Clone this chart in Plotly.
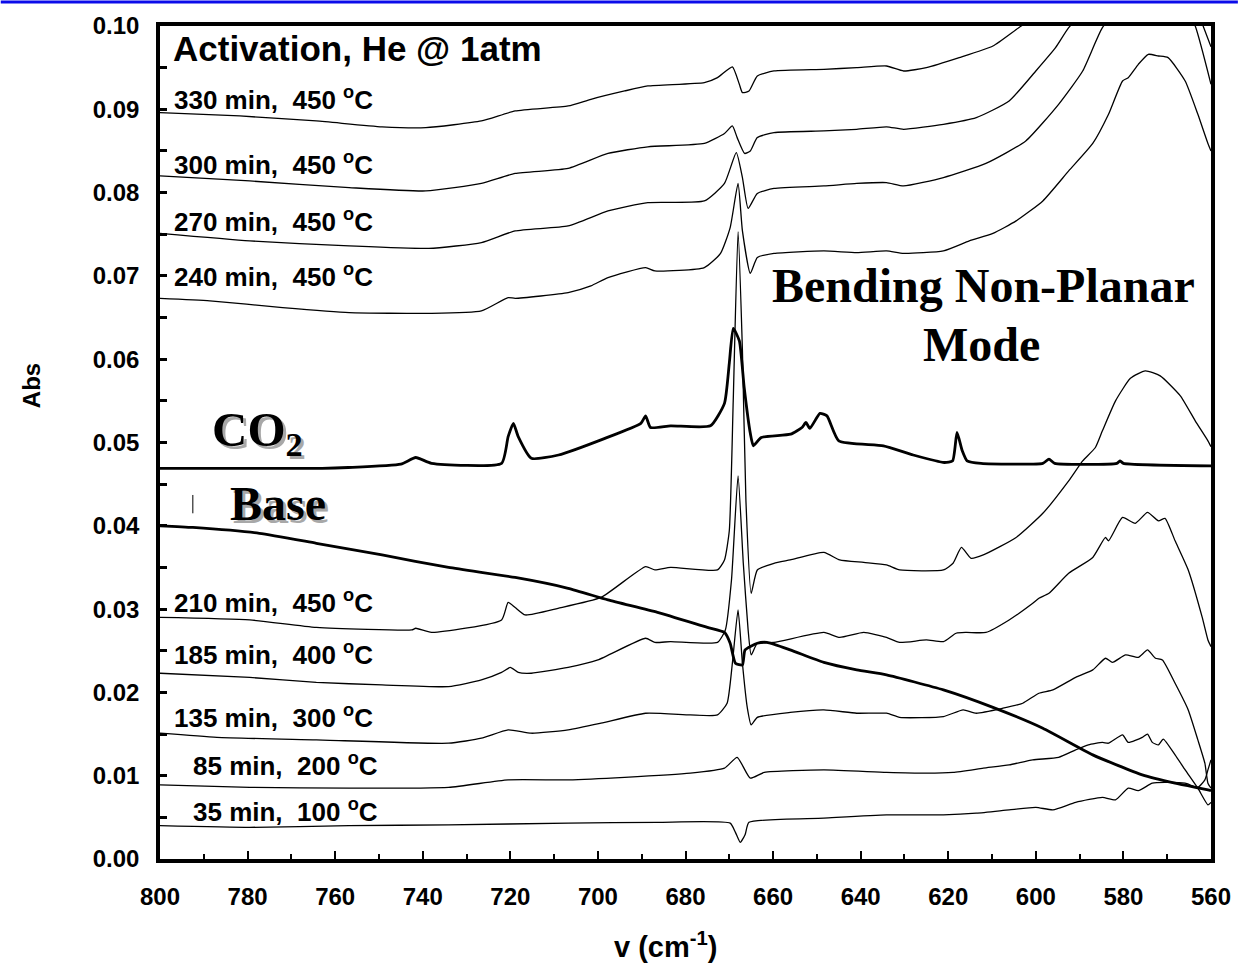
import plotly.graph_objects as go

# ---------------- data (wavenumber cm^-1, absorbance) ----------------
s330_v = [800, 781.8, 764.3, 749.3, 739.3, 726.6, 718.9, 706.8, 701.6, 693.9, 688.6, 675.7, 672.7, 669.3, 667.7, 667.0, 665.5, 663.6, 659.8, 648.4, 640.9, 634.1, 630.2, 625.0, 617.5, 609.8, 603.9, 595, 585, 575, 568, 563, 560]
s330_a = [0.0896, 0.0892, 0.0886, 0.0879, 0.0878, 0.0886, 0.0898, 0.0904, 0.0912, 0.0922, 0.0928, 0.0932, 0.0938, 0.0951, 0.0930, 0.0920, 0.0922, 0.0940, 0.0946, 0.0948, 0.0950, 0.0952, 0.0946, 0.0950, 0.0962, 0.0976, 0.0998, 0.1030, 0.1080, 0.1130, 0.1130, 0.1080, 0.1040]

s300_v = [800, 779.5, 756.8, 739.3, 726.6, 718.9, 706.8, 697.7, 688.6, 675.7, 671.1, 669.3, 668.2, 666.5, 665.2, 663.6, 659.8, 648.4, 640.9, 634.1, 630.2, 621.1, 613.6, 606.1, 600.0, 595.5, 592.5, 585, 575, 568, 564, 561.8, 560]
s300_a = [0.0820, 0.0814, 0.0806, 0.0802, 0.0811, 0.0823, 0.0829, 0.0847, 0.0855, 0.0859, 0.0871, 0.0880, 0.0866, 0.0847, 0.0850, 0.0866, 0.0872, 0.0874, 0.0876, 0.0879, 0.0876, 0.0882, 0.0890, 0.0910, 0.0946, 0.0974, 0.0998, 0.1040, 0.1080, 0.1070, 0.1030, 0.1000, 0.0975]

s270_v = [800, 779.5, 756.8, 738.6, 726.6, 718.9, 706.8, 697.7, 688.6, 675.7, 671.1, 668.4, 667.0, 665.7, 663.6, 659.8, 648.4, 640.9, 634.1, 630.2, 621.1, 611.4, 602.3, 594.8, 589.3, 584.8, 578, 572, 567, 563.6, 560]
s270_a = [0.0751, 0.0742, 0.0736, 0.0733, 0.0740, 0.0754, 0.0760, 0.0778, 0.0788, 0.0790, 0.0811, 0.0848, 0.0818, 0.0781, 0.0799, 0.0805, 0.0808, 0.0811, 0.0812, 0.0808, 0.0818, 0.0835, 0.0862, 0.0906, 0.0946, 0.0998, 0.1040, 0.1050, 0.1035, 0.1000, 0.0930]

s240_v = [800, 788.6, 772.0, 756.8, 738.6, 726.6, 720.5, 718.9, 706.8, 701.6, 697.7, 689.1, 687.0, 675.7, 672.0, 669.8, 668.0, 667.0, 665.2, 663.6, 659.8, 648.4, 640.9, 634.1, 630.2, 621.1, 615.2, 609.8, 604.5, 598.4, 592.5, 587.0, 583.4, 580.2, 578.9, 576.6, 574.3, 572.0, 569.8, 565.9, 563.0, 560.7, 560]
s240_a = [0.0673, 0.0670, 0.0662, 0.0656, 0.0655, 0.0658, 0.0674, 0.0673, 0.0680, 0.0688, 0.0698, 0.0710, 0.0706, 0.0710, 0.0727, 0.0758, 0.0811, 0.0754, 0.0703, 0.0722, 0.0727, 0.0730, 0.0728, 0.0730, 0.0727, 0.0730, 0.0742, 0.0751, 0.0766, 0.0790, 0.0826, 0.0859, 0.0894, 0.0934, 0.0938, 0.0954, 0.0966, 0.0964, 0.0962, 0.0934, 0.0894, 0.0859, 0.0850]

s210_v = [800, 779.5, 764.3, 742.5, 741.6, 738.0, 722.0, 720.5, 718.9, 716.6, 709.1, 699.3, 689.1, 687.0, 683.4, 672.7, 671.1, 670.0, 669.1, 668.0, 667.0, 666.2, 665.0, 663.6, 659.8, 656.1, 648.4, 644.8, 639.3, 634.1, 631.1, 621.1, 618.9, 617.0, 614.8, 612.0, 604.5, 598.4, 592.5, 589.3, 586.4, 584.8, 581.8, 578.4, 575.0, 571.6, 567.0, 563.6, 560.7, 560]
s210_a = [0.0290, 0.0287, 0.0278, 0.0275, 0.0277, 0.0272, 0.0287, 0.0308, 0.0302, 0.0293, 0.0301, 0.0314, 0.0351, 0.0347, 0.0350, 0.0347, 0.0359, 0.0394, 0.0550, 0.0753, 0.0610, 0.0430, 0.0319, 0.0347, 0.0355, 0.0359, 0.0368, 0.0359, 0.0356, 0.0353, 0.0347, 0.0347, 0.0355, 0.0374, 0.0361, 0.0365, 0.0386, 0.0415, 0.0454, 0.0478, 0.0494, 0.0514, 0.0550, 0.0577, 0.0586, 0.0580, 0.0556, 0.0526, 0.0502, 0.0495]

s185_v = [800, 779.5, 764.3, 749.3, 734.1, 726.6, 722.0, 720.0, 718.2, 715.2, 706.8, 700.0, 689.1, 687.0, 683.4, 672.7, 670.9, 669.5, 668.0, 666.8, 665.7, 665.0, 663.6, 659.8, 648.4, 644.8, 639.3, 634.1, 631.1, 625.0, 621.1, 618.2, 615.9, 611.4, 606.1, 600.7, 599.3, 597.0, 592.5, 587.0, 584.1, 583.4, 580.2, 577.3, 574.5, 572.0, 570.5, 568.2, 565.2, 562.0, 560.7, 560]
s185_a = [0.0223, 0.0218, 0.0212, 0.0209, 0.0207, 0.0215, 0.0224, 0.0230, 0.0224, 0.0223, 0.0230, 0.0239, 0.0265, 0.0260, 0.0261, 0.0260, 0.0275, 0.0335, 0.0460, 0.0355, 0.0275, 0.0245, 0.0259, 0.0260, 0.0272, 0.0266, 0.0272, 0.0266, 0.0260, 0.0263, 0.0261, 0.0271, 0.0272, 0.0272, 0.0287, 0.0307, 0.0313, 0.0319, 0.0343, 0.0362, 0.0386, 0.0382, 0.0410, 0.0403, 0.0416, 0.0406, 0.0409, 0.0382, 0.0347, 0.0290, 0.0263, 0.0255]

s135_v = [800, 787.0, 764.3, 734.1, 726.6, 720.5, 715.2, 706.8, 699.3, 689.1, 678.9, 672.7, 670.5, 669.3, 668.0, 667.0, 665.9, 665.0, 663.6, 656.1, 648.4, 640.9, 634.1, 631.1, 621.1, 616.6, 613.6, 607.5, 603.0, 599.3, 596.1, 590.9, 587.0, 584.1, 582.5, 579.5, 576.6, 574.5, 572.7, 571.1, 568.2, 565.2, 563.0, 561.4, 560.7, 560]
s135_a = [0.0151, 0.0146, 0.0143, 0.0139, 0.0145, 0.0155, 0.0151, 0.0155, 0.0163, 0.0175, 0.0173, 0.0173, 0.0187, 0.0235, 0.0299, 0.0235, 0.0182, 0.0161, 0.0170, 0.0176, 0.0179, 0.0175, 0.0175, 0.0170, 0.0171, 0.0179, 0.0175, 0.0181, 0.0187, 0.0199, 0.0203, 0.0218, 0.0227, 0.0241, 0.0236, 0.0245, 0.0242, 0.0251, 0.0241, 0.0239, 0.0211, 0.0179, 0.0143, 0.0115, 0.0091, 0.0085]

s85_v = [800, 779.5, 756.8, 734.1, 720.5, 706.8, 693.9, 678.9, 671.1, 668.2, 665.2, 662.0, 648.4, 634.1, 625.0, 618.9, 612.0, 606.1, 600.7, 594.8, 590.9, 588.0, 584.8, 583.4, 580.2, 578.9, 575.7, 574.5, 573.4, 572.0, 570.9, 568.2, 565.9, 563.0, 560.7, 560]
s85_a = [0.0089, 0.0086, 0.0085, 0.0086, 0.0095, 0.0095, 0.0098, 0.0103, 0.0109, 0.0122, 0.0097, 0.0104, 0.0107, 0.0104, 0.0103, 0.0104, 0.0109, 0.0113, 0.0119, 0.0122, 0.0131, 0.0137, 0.0140, 0.0139, 0.0149, 0.0140, 0.0146, 0.0150, 0.0140, 0.0137, 0.0144, 0.0125, 0.0107, 0.0085, 0.0065, 0.0068]

s35_v = [800, 779.5, 756.8, 734.1, 706.8, 686.4, 669.8, 668.6, 667.5, 666.4, 665.5, 648.4, 634.1, 621.1, 613.6, 606.1, 600.0, 596.1, 590.9, 584.8, 581.8, 578.9, 576.6, 573.4, 570.5, 565.9, 563.0, 561.4, 560.7, 560]
s35_a = [0.0040, 0.0038, 0.0040, 0.0041, 0.0043, 0.0044, 0.0043, 0.0032, 0.0020, 0.0029, 0.0044, 0.0049, 0.0053, 0.0053, 0.0055, 0.0059, 0.0062, 0.0059, 0.0068, 0.0074, 0.0071, 0.0085, 0.0082, 0.0091, 0.0092, 0.0091, 0.0086, 0.0095, 0.0107, 0.0119]

co2_v = [800, 763, 757, 745, 741.6, 738, 722, 720.5, 719.3, 718.2, 715.2, 709, 698.4, 690.2, 689.1, 688, 683.4, 674.3, 671.1, 670, 669.1, 667.7, 666.6, 665.2, 664.5, 662.7, 656, 653.4, 652.5, 651.6, 649.3, 647.7, 645, 634.8, 628, 620.9, 619, 618, 616.8, 615.7, 612.5, 598.4, 597, 595.7, 581.5, 580.8, 580, 560]
co2_a = [0.0469, 0.0469, 0.0470, 0.0474, 0.0482, 0.0475, 0.0475, 0.0507, 0.0523, 0.0507, 0.0481, 0.0485, 0.0505, 0.0523, 0.0532, 0.0518, 0.0520, 0.0520, 0.0547, 0.0595, 0.0637, 0.0622, 0.0566, 0.0511, 0.0496, 0.0506, 0.0510, 0.0518, 0.0524, 0.0517, 0.0535, 0.0532, 0.0502, 0.0496, 0.0485, 0.0476, 0.0478, 0.0512, 0.0490, 0.0478, 0.0475, 0.0475, 0.0480, 0.0475, 0.0475, 0.0478, 0.0475, 0.0472]

base_v = [800, 792.5, 777.3, 764.3, 749.3, 734.1, 718.9, 706.8, 697.7, 686.4, 675.0, 671.1, 669.8, 668.6, 667.0, 666.4, 663.6, 661.4, 656.1, 648.4, 640.9, 634.1, 621.1, 609.8, 598.4, 587.0, 575.7, 568.2, 560.7, 560]
base_a = [0.0400, 0.0398, 0.0391, 0.0379, 0.0365, 0.0350, 0.0338, 0.0325, 0.0311, 0.0296, 0.0278, 0.0272, 0.0259, 0.0235, 0.0233, 0.0251, 0.0259, 0.0260, 0.0251, 0.0236, 0.0227, 0.0221, 0.0203, 0.0182, 0.0157, 0.0125, 0.0101, 0.0091, 0.0083, 0.0082]

thin_series = [
    ("330 min", s330_v, s330_a),
    ("300 min", s300_v, s300_a),
    ("270 min", s270_v, s270_a),
    ("240 min", s240_v, s240_a),
    ("210 min", s210_v, s210_a),
    ("185 min", s185_v, s185_a),
    ("135 min", s135_v, s135_a),
    ("85 min", s85_v, s85_a),
    ("35 min", s35_v, s35_a),
]
thick_series = [("CO2", co2_v, co2_a), ("Base", base_v, base_a)]

# label text, left wavenumber, centre absorbance
labels = [
    ("330 min,&nbsp; 450 <sup>o</sup>C", 797.3, 0.0913),
    ("300 min,&nbsp; 450 <sup>o</sup>C", 797.3, 0.0835),
    ("270 min,&nbsp; 450 <sup>o</sup>C", 797.3, 0.0767),
    ("240 min,&nbsp; 450 <sup>o</sup>C", 797.3, 0.0700),
    ("210 min,&nbsp; 450 <sup>o</sup>C", 797.3, 0.0309),
    ("185 min,&nbsp; 400 <sup>o</sup>C", 797.3, 0.0247),
    ("135 min,&nbsp; 300 <sup>o</sup>C", 797.3, 0.0171),
    ("85 min,&nbsp; 200 <sup>o</sup>C", 793.0, 0.0114),
    ("35 min,&nbsp; 100 <sup>o</sup>C", 793.0, 0.0058),
]

SANS = "Liberation Sans, Arial, sans-serif"
SERIF = "Liberation Serif, Times New Roman, serif"

fig = go.Figure()
for name, v, a in thin_series:
    fig.add_trace(go.Scatter(x=v, y=a, mode="lines", name=name,
                             line=dict(color="black", width=1.3, shape="spline", smoothing=0.5)))
for name, v, a in thick_series:
    fig.add_trace(go.Scatter(x=v, y=a, mode="lines", name=name,
                             line=dict(color="black", width=2.8, shape="spline", smoothing=0.5)))

ann = []
for txt, xv, yv in labels:
    ann.append(dict(x=xv, y=yv, xref="x", yref="y", text=txt, showarrow=False,
                    xanchor="left", yanchor="middle",
                    font=dict(family=SANS, size=26, color="black", weight="bold")))

ann.append(dict(x=797.5, y=0.0973, xref="x", yref="y", text="Activation, He @ 1atm",
                showarrow=False, xanchor="left", yanchor="middle",
                font=dict(family=SANS, size=35, color="black", weight="bold")))

# serif labels with soft shadow
def shadowed(txt, xv, yv, size):
    out = []
    out.append(dict(x=xv, y=yv, xref="x", yref="y", text=txt, showarrow=False,
                    xanchor="left", yanchor="middle", xshift=3, yshift=-3,
                    font=dict(family=SERIF, size=size, color="#a8a8a8", weight="bold")))
    out.append(dict(x=xv, y=yv, xref="x", yref="y", text=txt, showarrow=False,
                    xanchor="left", yanchor="middle",
                    font=dict(family=SERIF, size=size, color="black", weight="bold")))
    return out

ann += shadowed("CO<sub>2</sub>", 788.6, 0.0512, 49)
ann += shadowed("Base", 784.4, 0.0427, 48)

ann.append(dict(x=612.0, y=0.0688, xref="x", yref="y", text="Bending Non-Planar",
                showarrow=False, xanchor="center", yanchor="middle",
                font=dict(family=SERIF, size=48, color="black", weight="bold")))
ann.append(dict(x=612.5, y=0.0618, xref="x", yref="y", text="Mode",
                showarrow=False, xanchor="center", yanchor="middle",
                font=dict(family=SERIF, size=48, color="black", weight="bold")))

# axis titles
ann.append(dict(x=(668 - 160) / 1056, y=-(945 - 859) / 834, xref="paper", yref="paper",
                text="v (cm<sup>-1</sup>)", showarrow=False, xanchor="center", yanchor="middle",
                font=dict(family=SANS, size=29, color="black", weight="bold")))
ann.append(dict(x=-(160 - 31) / 1056, y=(859 - 385) / 834, xref="paper", yref="paper",
                text="Abs", showarrow=False, textangle=-90, xanchor="center", yanchor="middle",
                font=dict(family=SANS, size=24, color="black", weight="bold")))

shapes = [
    # blue rule across the top of the page
    dict(type="line", xref="paper", yref="paper",
         x0=-160 / 1056, x1=(1243 - 160) / 1056,
         y0=1 + 24 / 834, y1=1 + 24 / 834,
         line=dict(color="#0b0bea", width=3)),
    # small mark beside "Base"
    dict(type="line", xref="x", yref="y", x0=792.5, x1=792.5, y0=0.0415, y1=0.0437,
         line=dict(color="black", width=1)),
]

fig.update_layout(
    width=1243, height=976,
    margin=dict(l=160, r=27, t=25, b=117),
    paper_bgcolor="white", plot_bgcolor="white",
    showlegend=False,
    annotations=ann, shapes=shapes,
)

fig.update_xaxes(
    range=[800, 560], autorange=False,
    tickvals=list(range(800, 559, -20)),
    ticks="inside", ticklen=8, tickwidth=2, tickcolor="black",
    minor=dict(dtick=10, ticks="inside", ticklen=5, tickwidth=2, tickcolor="black"),
    showline=True, linewidth=3.5, linecolor="black", mirror=True,
    showgrid=False, zeroline=False,
    tickfont=dict(family=SANS, size=24, color="black", weight="bold"),
    ticklabelstandoff=13,
)
fig.update_yaxes(
    range=[0, 0.10], autorange=False,
    dtick=0.01, tickformat=".2f",
    ticks="inside", ticklen=7, tickwidth=2.5, tickcolor="black",
    minor=dict(dtick=0.005, ticks="inside", ticklen=7, tickwidth=2.5, tickcolor="black"),
    showline=True, linewidth=3.5, linecolor="black", mirror=True,
    showgrid=False, zeroline=False,
    tickfont=dict(family=SANS, size=24, color="black", weight="bold"),
    ticklabelstandoff=12,
)

fig.write_html("out.html")
